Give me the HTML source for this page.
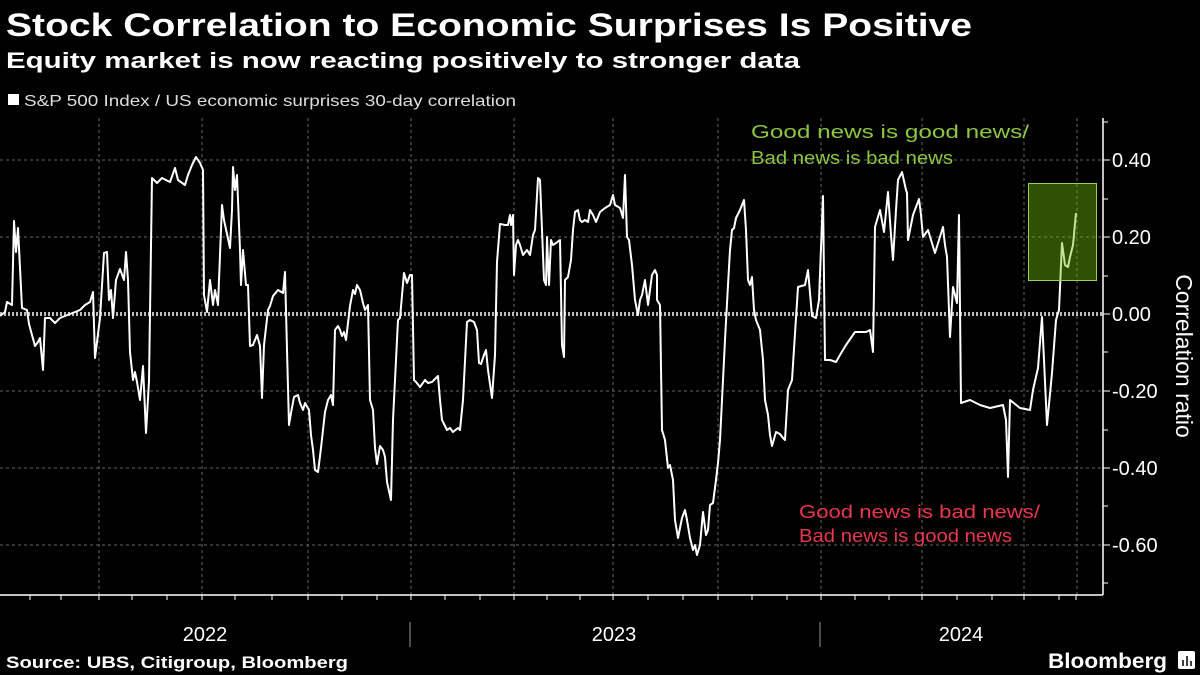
<!DOCTYPE html>
<html><head><meta charset="utf-8"><style>
html,body{margin:0;padding:0;background:#000;}
svg{display:block;font-family:"Liberation Sans","DejaVu Sans",sans-serif;}
</style></head><body>
<svg width="1200" height="675" viewBox="0 0 1200 675" xmlns="http://www.w3.org/2000/svg">
<rect width="1200" height="675" fill="#000"/>
<text x="6" y="36" fill="#fff" font-size="32" font-weight="bold" textLength="966" lengthAdjust="spacingAndGlyphs">Stock Correlation to Economic Surprises Is Positive</text>
<text x="6" y="68" fill="#fff" font-size="22" font-weight="bold" textLength="794" lengthAdjust="spacingAndGlyphs">Equity market is now reacting positively to stronger data</text>
<rect x="8" y="94" width="11" height="11" fill="#fff"/>
<text x="24" y="106" fill="#ddd" font-size="16" textLength="492" lengthAdjust="spacingAndGlyphs">S&amp;P 500 Index / US economic surprises 30-day correlation</text>

<g stroke="#666" stroke-width="1" stroke-dasharray="3,3">
<line x1="0" y1="160" x2="1103" y2="160"/>
<line x1="0" y1="237" x2="1103" y2="237"/>
<line x1="0" y1="391" x2="1103" y2="391"/>
<line x1="0" y1="468" x2="1103" y2="468"/>
<line x1="0" y1="545" x2="1103" y2="545"/>
<line x1="99" y1="118" x2="99" y2="595"/>
<line x1="202" y1="118" x2="202" y2="595"/>
<line x1="308" y1="118" x2="308" y2="595"/>
<line x1="411" y1="118" x2="411" y2="595"/>
<line x1="514" y1="118" x2="514" y2="595"/>
<line x1="613" y1="118" x2="613" y2="595"/>
<line x1="718" y1="118" x2="718" y2="595"/>
<line x1="821" y1="118" x2="821" y2="595"/>
<line x1="922" y1="118" x2="922" y2="595"/>
<line x1="1024" y1="118" x2="1024" y2="595"/>
<line x1="1077" y1="118" x2="1077" y2="595"/>
</g>
<line x1="0" y1="314" x2="1103" y2="314" stroke="#bbb" stroke-width="4" stroke-dasharray="2,2"/>

<polyline fill="none" stroke="#fff" stroke-width="2" stroke-linejoin="round" points="0,316 5,312 7,302 12,305 14,221 16,252 18,228 22,308 27,310 29,324 32,335 35,346 38,342 40,338 43,370 45,318 50,318 55,323 60,318 70,314 80,310 85,305 90,302 93,292 95,358 98,334 100,318 104,253 107,252 109,300 111,290 113,318 116,280 120,269 124,280 126,252 128,280 130,352 133,380 135,372 137,382 140,400 143,366 146,433 149,381 152,178 157,183 162,178 170,182 175,168 178,180 185,185 188,175 192,165 196,157 200,163 203,170 204,295 207,312 210,280 213,305 215,290 218,305 222,205 224,220 230,248 232,210 233,167 235,190 237,175 240,250 241,285 243,250 246,285 248,285 250,346 253,345 257,335 260,346 262,398 264,345 268,310 270,306 273,296 278,290 283,293 285,272 287,350 289,425 291,413 294,397 298,395 300,403 303,410 305,403 309,410 311,435 313,450 315,470 318,472 321,448 325,412 328,400 331,395 333,405 335,330 338,326 340,330 342,336 344,332 346,340 350,306 353,290 355,294 357,285 360,290 363,303 365,310 368,305 370,400 373,410 375,448 377,464 380,446 383,450 385,457 387,482 391,500 393,420 396,360 398,320 400,318 404,273 407,283 410,275 412,275 414,380 416,382 420,387 425,380 428,383 432,382 438,376 440,400 442,420 447,430 450,428 453,432 458,428 460,430 463,400 467,322 470,320 474,322 477,330 479,363 481,364 484,355 486,350 488,370 492,398 495,355 497,262 500,224 505,225 508,225 510,215 511,225 513,215 514,275 516,245 518,240 520,245 523,255 527,250 530,255 533,235 535,230 538,178 540,180 542,230 544,280 546,285 547,237 549,285 551,240 553,245 556,243 560,240 562,345 564,357 565,280 568,277 571,260 573,230 575,212 578,210 580,220 582,222 585,220 588,222 590,210 593,215 596,222 600,212 605,208 610,205 613,195 615,205 620,208 623,218 625,175 627,237 629,240 632,265 635,300 638,315 640,300 642,295 645,280 648,305 650,290 652,275 655,270 657,275 657,300 660,305 662,430 665,440 668,468 670,465 673,480 675,520 678,538 682,518 685,510 687,520 690,538 693,550 695,545 697,555 700,545 703,512 706,535 708,530 710,505 713,503 716,480 718,463 720,440 722,400 725,340 728,285 730,250 732,230 734,228 736,218 740,210 742,205 744,200 746,230 748,280 750,285 752,277 754,310 756,320 758,325 760,330 763,360 765,400 768,415 770,435 772,446 776,432 780,434 783,438 785,440 788,390 792,380 798,287 805,285 808,270 812,316 816,318 819,300 823,196 825,360 830,360 836,362 840,355 846,345 855,332 866,332 870,330 873,352 875,227 880,210 884,232 888,192 891,235 893,260 896,210 898,180 902,172 906,190 907,193 908,240 913,215 919,199 921,215 923,237 928,230 935,253 943,227 945,245 947,257 950,337 953,287 957,303 959,215 961,403 970,400 980,405 990,408 1003,405 1006,420 1008,477 1010,400 1020,408 1030,410 1033,390 1038,368 1042,317 1047,425 1052,373 1056,320 1059,310 1062,243 1065,265 1068,267 1070,257 1073,245 1076,213"/>

<rect x="1028.5" y="183.5" width="68" height="97" fill="rgba(115,192,12,0.42)" stroke="#9acd5a" stroke-width="1"/>

<line x1="0" y1="595" x2="1103" y2="595" stroke="#fff" stroke-width="1.5"/>
<line x1="1103" y1="118" x2="1103" y2="595" stroke="#fff" stroke-width="1.5"/>
<g stroke="#fff" stroke-width="1">
<line x1="30" y1="595" x2="30" y2="600"/><line x1="61" y1="595" x2="61" y2="600"/><line x1="99" y1="595" x2="99" y2="600"/><line x1="132" y1="595" x2="132" y2="600"/><line x1="167" y1="595" x2="167" y2="600"/><line x1="202" y1="595" x2="202" y2="600"/><line x1="235" y1="595" x2="235" y2="600"/><line x1="272" y1="595" x2="272" y2="600"/><line x1="308" y1="595" x2="308" y2="600"/><line x1="342" y1="595" x2="342" y2="600"/><line x1="377" y1="595" x2="377" y2="600"/><line x1="411" y1="595" x2="411" y2="600"/><line x1="445" y1="595" x2="445" y2="600"/><line x1="480" y1="595" x2="480" y2="600"/><line x1="514" y1="595" x2="514" y2="600"/><line x1="547" y1="595" x2="547" y2="600"/><line x1="580" y1="595" x2="580" y2="600"/><line x1="613" y1="595" x2="613" y2="600"/><line x1="648" y1="595" x2="648" y2="600"/><line x1="683" y1="595" x2="683" y2="600"/><line x1="718" y1="595" x2="718" y2="600"/><line x1="752" y1="595" x2="752" y2="600"/><line x1="787" y1="595" x2="787" y2="600"/><line x1="821" y1="595" x2="821" y2="600"/><line x1="855" y1="595" x2="855" y2="600"/><line x1="889" y1="595" x2="889" y2="600"/><line x1="922" y1="595" x2="922" y2="600"/><line x1="957" y1="595" x2="957" y2="600"/><line x1="992" y1="595" x2="992" y2="600"/><line x1="1024" y1="595" x2="1024" y2="600"/><line x1="1059" y1="595" x2="1059" y2="600"/><line x1="1076" y1="595" x2="1076" y2="600"/>
<line x1="1103" y1="122" x2="1108" y2="122"/><line x1="1103" y1="160" x2="1110" y2="160"/><line x1="1103" y1="199" x2="1108" y2="199"/><line x1="1103" y1="237" x2="1110" y2="237"/><line x1="1103" y1="276" x2="1108" y2="276"/><line x1="1103" y1="314" x2="1110" y2="314"/><line x1="1103" y1="352" x2="1108" y2="352"/><line x1="1103" y1="391" x2="1110" y2="391"/><line x1="1103" y1="430" x2="1108" y2="430"/><line x1="1103" y1="468" x2="1110" y2="468"/><line x1="1103" y1="506" x2="1108" y2="506"/><line x1="1103" y1="545" x2="1110" y2="545"/><line x1="1103" y1="583" x2="1108" y2="583"/>
</g>
<line x1="410" y1="622" x2="410" y2="647" stroke="#999" stroke-width="1"/>
<line x1="820" y1="622" x2="820" y2="647" stroke="#999" stroke-width="1"/>

<g fill="#fff" font-size="20">
<text x="1112" y="167">0.40</text>
<text x="1112" y="244">0.20</text>
<text x="1112" y="321">0.00</text>
<text x="1112" y="398">-0.20</text>
<text x="1112" y="475">-0.40</text>
<text x="1112" y="552">-0.60</text>
<text x="205" y="641" text-anchor="middle">2022</text>
<text x="614" y="641" text-anchor="middle">2023</text>
<text x="961" y="641" text-anchor="middle">2024</text>
</g>
<text transform="translate(1176,356) rotate(90)" fill="#fff" font-size="23" text-anchor="middle">Correlation ratio</text>

<g fill="#8dc63f" font-size="18">
<text x="751" y="138" textLength="278" lengthAdjust="spacingAndGlyphs">Good news is good news/</text>
<text x="751" y="164" textLength="202" lengthAdjust="spacingAndGlyphs">Bad news is bad news</text>
</g>
<g fill="#e8374f" font-size="18">
<text x="799" y="518" textLength="241" lengthAdjust="spacingAndGlyphs">Good news is bad news/</text>
<text x="799" y="542" textLength="213" lengthAdjust="spacingAndGlyphs">Bad news is good news</text>
</g>

<text x="6" y="668" fill="#fff" font-size="17" font-weight="bold" textLength="342" lengthAdjust="spacingAndGlyphs">Source: UBS, Citigroup, Bloomberg</text>
<text x="1048" y="668" fill="#fff" font-size="21" font-weight="bold" textLength="119" lengthAdjust="spacingAndGlyphs">Bloomberg</text>
<rect x="1178" y="651" width="17" height="18" rx="2" fill="#fff"/>
<g stroke="#000" stroke-width="1.5"><line x1="1183" y1="666" x2="1183" y2="660"/><line x1="1187" y1="666" x2="1187" y2="656"/><line x1="1191" y1="666" x2="1191" y2="661"/></g>
</svg>
</body></html>
